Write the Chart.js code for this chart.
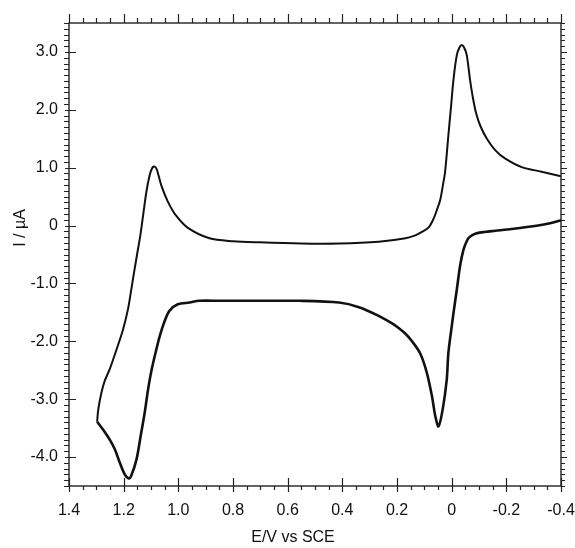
<!DOCTYPE html>
<html>
<head>
<meta charset="utf-8">
<script src="https://cdn.jsdelivr.net/npm/chart.js@4"></script>
<style>
  html, body { margin: 0; background: #fff; }
  #wrap { width: 575px; height: 548px; }
</style>
</head>
<body>
<div id="wrap"><canvas id="cv"></canvas></div>
<script>
// Voltamperogramme cyclique : E (V vs SCE) en abscisse inversée, I (µA) en ordonnée.
const xTicks = [1.4, 1.2, 1.0, 0.8, 0.6, 0.4, 0.2, 0, -0.2, -0.4];
const yTicks = [-4, -3, -2, -1, 0, 1, 2, 3];

// branche basse, de -0.4 V vers le sommet à 1.3 V
const lowerE = [-0.40, -0.36, -0.316, -0.22, -0.16, -0.12, -0.086, -0.065, -0.055, -0.043, -0.031, -0.019, -0.007, 0.000, 0.012, 0.018, 0.033, 0.048, 0.060, 0.072, 0.091, 0.115, 0.145, 0.169, 0.194, 0.218, 0.267, 0.339, 0.412, 0.558, 0.704, 0.850, 0.923, 0.959, 1.002, 1.032, 1.050, 1.068, 1.083, 1.099, 1.111, 1.123, 1.138, 1.153, 1.172, 1.181, 1.196, 1.214, 1.232, 1.251, 1.275, 1.297];
const lowerI = [0.09, 0.04, 0.00, -0.06, -0.09, -0.11, -0.14, -0.20, -0.27, -0.42, -0.69, -1.10, -1.50, -1.75, -2.20, -2.66, -3.18, -3.47, -3.29, -2.95, -2.54, -2.21, -2.00, -1.87, -1.77, -1.69, -1.56, -1.41, -1.33, -1.30, -1.30, -1.30, -1.30, -1.33, -1.36, -1.47, -1.65, -1.91, -2.19, -2.52, -2.84, -3.23, -3.64, -4.04, -4.32, -4.37, -4.30, -4.10, -3.87, -3.70, -3.53, -3.39];

// branche haute, du sommet à 1.3 V vers -0.4 V
const upperE = [1.297, 1.293, 1.281, 1.269, 1.251, 1.226, 1.202, 1.184, 1.172, 1.162, 1.151, 1.139, 1.129, 1.117, 1.105, 1.096, 1.090, 1.084, 1.078, 1.062, 1.038, 1.008, 0.965, 0.886, 0.800, 0.704, 0.550, 0.412, 0.267, 0.169, 0.133, 0.109, 0.084, 0.066, 0.054, 0.042, 0.032, 0.024, 0.012, 0.003, -0.007, -0.019, -0.029, -0.037, -0.045, -0.055, -0.068, -0.078, -0.090, -0.105, -0.130, -0.160, -0.195, -0.256, -0.329, -0.40];
const upperI = [-3.39, -3.18, -2.88, -2.68, -2.48, -2.14, -1.79, -1.44, -1.10, -0.81, -0.50, -0.17, 0.17, 0.58, 0.87, 0.99, 1.02, 1.01, 0.96, 0.69, 0.41, 0.17, -0.04, -0.22, -0.27, -0.29, -0.31, -0.31, -0.28, -0.22, -0.17, -0.11, -0.03, 0.12, 0.27, 0.44, 0.70, 0.93, 1.56, 2.02, 2.54, 2.95, 3.08, 3.12, 3.08, 2.95, 2.49, 2.20, 1.93, 1.72, 1.49, 1.30, 1.16, 1.01, 0.93, 0.85];

const FONT = "'Liberation Sans', Arial, sans-serif";
const zip = (xs, ys) => xs.map((x, i) => ({ x, y: ys[i] }));
const fmt = (v) => (Math.abs(v) < 1e-9 ? '0' : v.toFixed(1));

// cadre + graduations mineures/majeures, titres d'axes
const frame = {
  id: 'frame',
  afterDraw(chart) {
    const { ctx, chartArea: a, scales: { x, y } } = chart;
    ctx.save();
    ctx.strokeStyle = '#222';
    ctx.lineWidth = 1.4;
    ctx.strokeRect(a.left, a.top, a.right - a.left, a.bottom - a.top);
    ctx.lineWidth = 1.2;
    ctx.beginPath();
    for (let k = 0; k <= 36; k++) {
      const px = Math.round(x.getPixelForValue(-0.4 + k * 0.05)) + 0.5;
      const major = k % 4 === 0;
      ctx.moveTo(px, a.bottom - (major ? 8 : 0)); ctx.lineTo(px, a.bottom + (major ? 6 : 4));
      ctx.moveTo(px, a.top); ctx.lineTo(px, a.top - (major ? 9 : 5));
    }
    for (let k = 0; k <= 80; k++) {
      const py = Math.round(y.getPixelForValue(-4.5 + k * 0.1)) + 0.5;
      const major = (k - 5) % 10 === 0;
      ctx.moveTo(a.left + (major ? 7 : 0), py); ctx.lineTo(a.left - (major ? 4 : 5), py);
      ctx.moveTo(a.right, py); ctx.lineTo(a.right + (major ? 6 : 4), py);
    }
    ctx.stroke();

    ctx.fillStyle = '#111';
    ctx.font = `16px ${FONT}`;
    ctx.textAlign = 'center';
    ctx.textBaseline = 'middle';
    ctx.fillText('E/V vs SCE', 293, 538);
    ctx.translate(21, 228);
    ctx.rotate(-Math.PI / 2);
    ctx.fillText('I / µA', 0, 0);
    ctx.restore();
  },
};

new Chart(document.getElementById('cv'), {
  type: 'scatter',
  data: {
    datasets: [
      { data: zip(lowerE, lowerI), showLine: true, borderColor: '#111', borderWidth: 2.6, pointRadius: 0, tension: 0.3 },
      { data: zip(upperE, upperI), showLine: true, borderColor: '#111', borderWidth: 2.0, pointRadius: 0, tension: 0.3 },
    ],
  },
  options: {
    responsive: true,
    maintainAspectRatio: false,
    animation: false,
    devicePixelRatio: 1,
    layout: { padding: { top: 23, right: 14, left: 0, bottom: 0 } },
    plugins: { legend: { display: false }, tooltip: { enabled: false } },
    scales: {
      x: {
        type: 'linear', reverse: true, min: -0.4, max: 1.4,
        grid: { display: false, drawTicks: false }, border: { display: false },
        afterBuildTicks: (s) => { s.ticks = xTicks.map((value) => ({ value })); },
        afterFit: (s) => { s.height = 62; s.paddingLeft = 0; s.paddingRight = 0; },
        ticks: { color: '#111', padding: 15, maxRotation: 0, autoSkip: false, font: { family: FONT, size: 16 }, callback: fmt },
      },
      y: {
        type: 'linear', min: -4.5, max: 3.5,
        grid: { display: false, drawTicks: false }, border: { display: false },
        afterBuildTicks: (s) => { s.ticks = yTicks.map((value) => ({ value })); },
        afterFit: (s) => { s.width = 69; s.paddingTop = 0; s.paddingBottom = 0; },
        ticks: { color: '#111', padding: 11, autoSkip: false, font: { family: FONT, size: 16 }, callback: fmt },
      },
    },
  },
  plugins: [frame],
});
</script>
</body>
</html>
